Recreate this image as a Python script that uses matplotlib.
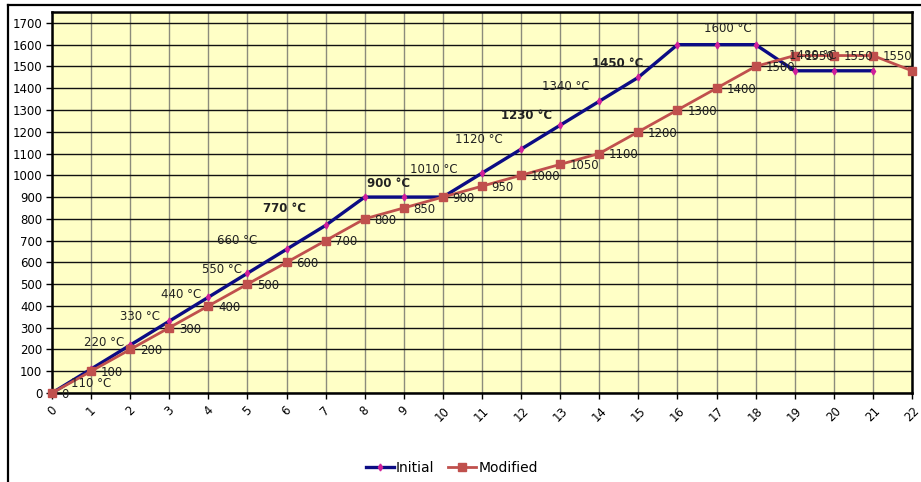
import matplotlib
matplotlib.use("Agg")
import matplotlib.pyplot as plt
from matplotlib import font_manager
from matplotlib.lines import Line2D

# ---- data ----
steps_initial = list(range(0, 22))
initial = [0, 110, 220, 330, 440, 550, 660, 770, 900, 900, 900, 1010,
           1120, 1230, 1340, 1450, 1600, 1600, 1600, 1480, 1480, 1480]
steps_modified = list(range(0, 23))
modified = [0, 100, 200, 300, 400, 500, 600, 700, 800, 850, 900, 950, 1000,
            1050, 1100, 1200, 1300, 1400, 1500, 1550, 1550, 1550, 1480]

# temperature callouts on the initial curve: (step, offset_x_px, offset_y_px, bold)
initial_callouts = [
    (1, 0, -14, False), (2, -26, 3, False), (3, -29, 5, False),
    (4, -27, 3, False), (5, -25, 4, False), (6, -49, 9, False),
    (7, -41, 17, True), (9, -15, 14, True), (11, -48, 4, False),
    (12, -42, 10, False), (13, -34, 10, True), (14, -33, 15, False),
    (15, -21, 14, True), (17, 11, 16, False), (19, 18, 15, False),
]

available = {f.name for f in font_manager.fontManager.ttflist}
family = "Liberation Sans Narrow" if "Liberation Sans Narrow" in available else "DejaVu Sans"
plt.rcParams["font.family"] = [family, "DejaVu Sans"]

BLUE = "#0c0c84"
RED = "#c0504d"

fig = plt.figure(figsize=(9.21, 4.82), dpi=100)
fig.patch.set_facecolor("white")

# outer chart frame
fig.add_artist(Line2D([8 / 921, 8 / 921], [0, 1 - 5 / 482], transform=fig.transFigure,
                      color="black", lw=1.6))
fig.add_artist(Line2D([8 / 921, 1], [1 - 5 / 482, 1 - 5 / 482], transform=fig.transFigure,
                      color="black", lw=1.6))

ax = fig.add_axes([52 / 921, 1 - 393 / 482, (912 - 52) / 921, (393 - 12) / 482])
ax.set_facecolor("#ffffc6")

ax.set_xlim(0, 22)
ax.set_ylim(0, 1750)
ax.set_xticks(range(0, 23))
ax.set_yticks(range(0, 1701, 100))
ax.tick_params(axis="y", labelsize=8.5, length=4, width=1, pad=3)
ax.tick_params(axis="x", labelsize=8.5, length=4, width=1, pad=4, labelrotation=45)
for lbl in ax.get_xticklabels():
    lbl.set_ha("center")

ax.grid(axis="y", color="#111111", lw=1.0)
ax.grid(axis="x", color="#8c8c7c", lw=1.0)
ax.set_axisbelow(True)
for s in ax.spines.values():
    s.set_color("black")
    s.set_linewidth(1.8)

ax.plot(steps_initial, initial, color=BLUE, lw=2.4, marker="d", ms=3.5,
        mfc="#d0209a", mec="#d0209a", label="Initial", zorder=3, clip_on=False)
ax.plot(steps_modified, modified, color=RED, lw=2.0, marker="s", ms=6,
        mfc=RED, mec=RED, label="Modified", zorder=4, clip_on=False)

for x, y in zip(steps_modified, modified):
    ax.annotate(str(y), (x, y), xytext=(7, -1), textcoords="offset points",
                ha="left", va="center", fontsize=8.5, color="#222222",
                zorder=5, annotation_clip=False)

for step, dx, dy, bold in initial_callouts:
    ax.annotate(f"{initial[step]} °C", (step, initial[step]), xytext=(dx, dy),
                textcoords="offset pixels", ha="center", va="center",
                fontsize=8.5, color="#222222",
                fontweight="bold" if bold else "normal", zorder=5,
                annotation_clip=False)

ax.legend(loc="upper center", bbox_to_anchor=(0.465, -0.145), ncol=2, frameon=False,
          fontsize=10, handlelength=2.0, columnspacing=1.0, handletextpad=0.15)

fig.savefig("out.png", dpi=100)
